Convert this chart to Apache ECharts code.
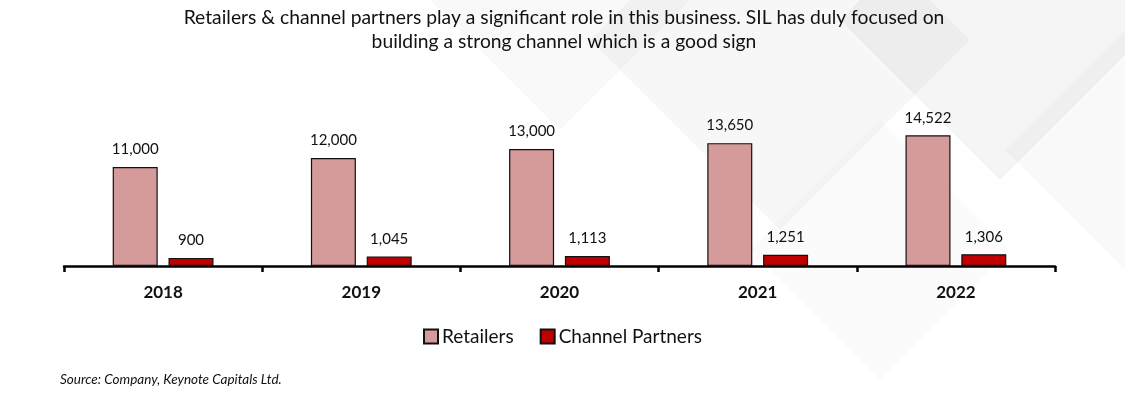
<!DOCTYPE html>
<html>
<head>
<meta charset="utf-8">
<script src="https://cdn.jsdelivr.net/npm/echarts@6/dist/echarts.min.js"></script>
<style>html,body{margin:0;padding:0;background:#fff}#c{width:1125px;height:396px}</style>
</head>
<body>
<div id="c"></div>
<script>
const categories = ['2018', '2019', '2020', '2021', '2022'];
const retailers = [11000, 12000, 13000, 13650, 14522];
const channelPartners = [900, 1045, 1113, 1251, 1306];
const seriesNames = ['Retailers', 'Channel Partners'];
const titleLines = ['Retailers & channel partners play a significant role in this business. SIL has duly focused on', 'building a strong channel which is a good sign'];
const sourceText = 'Source: Company, Keynote Capitals Ltd.';

const FONT = 'Lato, "Open Sans", sans-serif';
const chart = echarts.init(document.getElementById('c'), null, {renderer: 'canvas'});

function diamond(cx, cy, r, op) {
  return {type: 'polygon', silent: true, z: -10,
    shape: {points: [[cx, cy - r], [cx + r, cy], [cx, cy + r], [cx - r, cy]]},
    style: {fill: 'rgba(0,0,0,' + op + ')'}};
}

const fmt = v => v.toLocaleString('en-US');

chart.setOption({
  backgroundColor: '#fff',
  animation: false,
  title: {
    text: titleLines.join('\n'),
    left: 559, top: 1, textAlign: 'center',
    textStyle: {fontFamily: FONT, fontSize: 19.3, fontWeight: 'normal', color: '#111', lineHeight: 24}
  },
  graphic: [
    diamond(780, 40, 190, 0.03),
    diamond(1000, 20, 160, 0.04),
    diamond(560, -60, 190, 0.025),
    diamond(880, 250, 130, 0.015),
    diamond(1125, 150, 120, 0.025),
    {type: 'text', left: 60, top: 373, z: 10,
     style: {text: sourceText, fontFamily: FONT, fontStyle: 'italic', fontSize: 13.5, fill: '#111'}}
  ],
  legend: {
    data: seriesNames, left: 'center', top: 322,
    itemWidth: 14, itemHeight: 14, itemGap: 26,
    textStyle: {fontFamily: FONT, fontSize: 19, color: '#111', padding: [0, 0, 0, -1]},
    icon: 'rect'
  },
  grid: {left: 64, right: 70, top: 86, bottom: 130},
  xAxis: {
    type: 'category', data: categories,
    axisLine: {lineStyle: {color: '#000', width: 2.5}},
    axisTick: {show: true, inside: false, length: 6, lineStyle: {color: '#000', width: 2.5}},
    axisLabel: {fontFamily: FONT, fontSize: 17, fontWeight: 'bold', color: '#111', margin: 18}
  },
  yAxis: {type: 'value', min: 0, max: 20000, show: false, splitLine: {show: false}},
  series: [
    {name: seriesNames[0], type: 'bar', data: retailers, barWidth: 45, barGap: '24%',
     itemStyle: {color: '#D59A9A', borderColor: '#111', borderWidth: 1.2},
     label: {show: true, position: 'top', distance: 10, formatter: p => fmt(p.value),
             fontFamily: FONT, fontSize: 15, color: '#111'}},
    {name: seriesNames[1], type: 'bar', data: channelPartners, barWidth: 45,
     itemStyle: {color: '#C00000', borderColor: '#111', borderWidth: 1.2},
     label: {show: true, position: 'top', distance: 10, formatter: p => fmt(p.value),
             fontFamily: FONT, fontSize: 15, color: '#111'}}
  ]
});
</script>
</body>
</html>
